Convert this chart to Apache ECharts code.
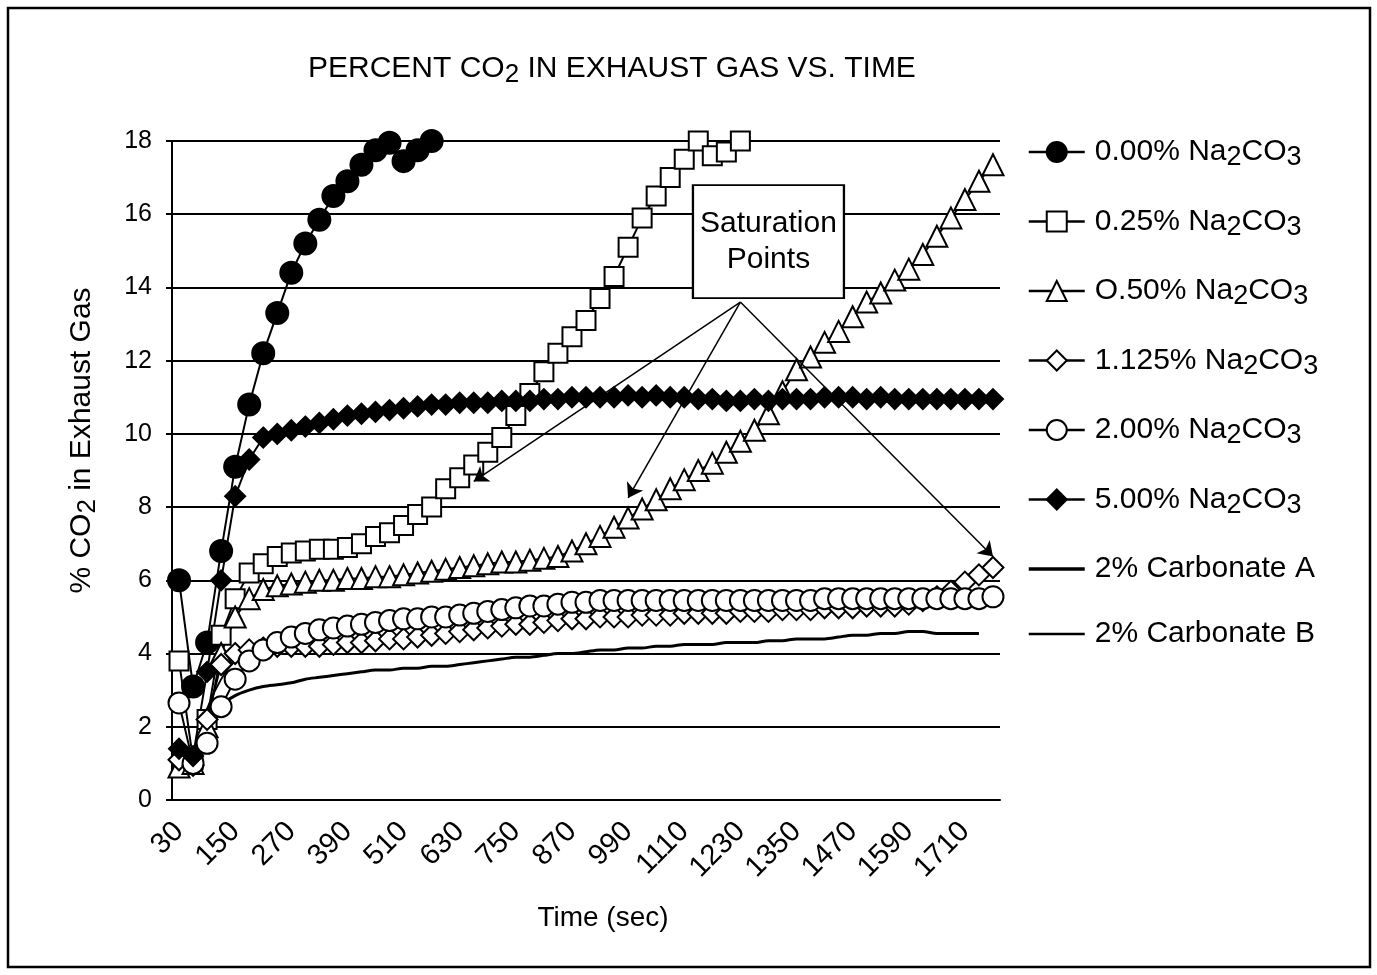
<!DOCTYPE html>
<html>
<head>
<meta charset="utf-8">
<script src="https://cdn.jsdelivr.net/npm/echarts@6/dist/echarts.min.js"></script>
<style>
  html, body { margin: 0; padding: 0; background: #fff; }
  #main { width: 1377px; height: 975px; }
</style>
</head>
<body>
<div id="main"></div>
<script>
// time axis (sec), one category every 30 s
const times = ['30','60','90','120','150','180','210','240','270','300','330','360','390','420','450',
  '480','510','540','570','600','630','660','690','720','750','780','810','840','870','900','930',
  '960','990','1020','1050','1080','1110','1140','1170','1200','1230','1260','1290','1320','1350',
  '1380','1410','1440','1470','1500','1530','1560','1590','1620','1650','1680','1710','1740','1770'];

const yTicks = [0, 2, 4, 6, 8, 10, 12, 14, 16, 18];

// % CO2
const na000 = [6.0, 3.1, 4.3, 6.8, 9.1, 10.8, 12.2, 13.3, 14.4, 15.2, 15.85, 16.5, 16.9, 17.35, 17.75,
  17.95, 17.45, 17.75, 18.0];

const na025 = [3.8, 1.1, 2.2, 4.5, 5.5, 6.2, 6.45, 6.65, 6.75, 6.8, 6.85, 6.85, 6.9, 7.0, 7.2, 7.3,
  7.5, 7.8, 8.0, 8.5, 8.8, 9.15, 9.5, 9.9, 10.5, 11.1, 11.7, 12.2, 12.65, 13.1, 13.7, 14.3, 15.1,
  15.9, 16.5, 17.0, 17.5, 18.0, 17.6, 17.7, 18.0];

const na050 = [0.9, 1.0, 2.0, 4.0, 5.0, 5.5, 5.75, 5.85, 5.9, 5.95, 6.0, 6.0, 6.05, 6.05, 6.1, 6.1,
  6.15, 6.2, 6.25, 6.3, 6.35, 6.4, 6.45, 6.5, 6.5, 6.55, 6.6, 6.65, 6.8, 7.0, 7.2, 7.45, 7.7, 7.95,
  8.2, 8.5, 8.75, 9.0, 9.2, 9.5, 9.8, 10.1, 10.55, 11.15, 11.75, 12.1, 12.5, 12.8, 13.2, 13.6, 13.85,
  14.2, 14.5, 14.9, 15.4, 15.9, 16.4, 16.9, 17.35];

const na1125 = [1.1, 0.95, 2.2, 3.7, 4.0, 4.1, 4.15, 4.2, 4.2, 4.2, 4.2, 4.25, 4.3, 4.3, 4.35, 4.4,
  4.4, 4.45, 4.5, 4.55, 4.6, 4.65, 4.7, 4.75, 4.8, 4.8, 4.85, 4.9, 4.95, 4.95, 5.0, 5.0, 5.0, 5.05,
  5.05, 5.05, 5.1, 5.1, 5.1, 5.1, 5.15, 5.15, 5.15, 5.2, 5.2, 5.2, 5.25, 5.25, 5.25, 5.3, 5.3, 5.3,
  5.35, 5.45, 5.55, 5.7, 5.95, 6.15, 6.35];

const na200 = [2.65, 1.0, 1.55, 2.55, 3.3, 3.8, 4.1, 4.3, 4.45, 4.55, 4.65, 4.7, 4.75, 4.8, 4.85, 4.9,
  4.95, 4.95, 5.0, 5.0, 5.05, 5.1, 5.15, 5.2, 5.25, 5.3, 5.3, 5.35, 5.4, 5.4,
  5.45, 5.45, 5.45, 5.45, 5.45, 5.45, 5.45, 5.45, 5.45, 5.45, 5.45, 5.45, 5.45, 5.45, 5.45, 5.45,
  5.5, 5.5, 5.5, 5.5, 5.5, 5.5, 5.5, 5.5, 5.5, 5.5, 5.5, 5.5, 5.55];

const na500 = [1.4, 1.2, 3.5, 6.0, 8.3, 9.3, 9.9, 10.0, 10.1, 10.2, 10.3, 10.4, 10.5, 10.55, 10.6,
  10.65, 10.7, 10.75, 10.8, 10.8, 10.85, 10.85, 10.85, 10.9, 10.9, 10.9, 10.95, 10.95, 11.0, 11.0,
  11.0, 11.0, 11.05, 11.0, 11.05, 11.0, 11.0, 10.95, 10.95, 10.9, 10.9, 10.95, 10.9, 10.95, 10.95,
  10.95, 11.0, 11.0, 11.0, 10.95, 11.0, 10.95, 10.95, 10.95, 10.95, 10.95, 10.95, 10.95, 10.95];

const carbA = [1.0, 1.2, 2.2, 2.6, 2.85, 3.0, 3.1, 3.15, 3.2, 3.3, 3.35, 3.4, 3.45, 3.5, 3.55, 3.55,
  3.6, 3.6, 3.65, 3.65, 3.7, 3.75, 3.8, 3.85, 3.9, 3.9, 3.95, 4.0, 4.0, 4.05, 4.1, 4.1, 4.15, 4.15,
  4.2, 4.2, 4.25, 4.25, 4.25, 4.3, 4.3, 4.3, 4.35, 4.35, 4.4, 4.4, 4.4, 4.45, 4.5, 4.5, 4.55, 4.55,
  4.6, 4.6, 4.55, 4.55, 4.55, 4.55];

const carbB = [1.2, 1.3, 2.5, 3.3, 3.8, 4.05, 4.2, 4.35, 4.45, 4.55, 4.6, 4.65, 4.7, 4.75, 4.8, 4.85,
  4.9, 4.9, 4.95, 5.0, 5.05, 5.1, 5.15, 5.2, 5.25, 5.3, 5.3, 5.35, 5.35, 5.4, 5.4,
  5.45, 5.45, 5.45, 5.45, 5.45, 5.45, 5.45, 5.45, 5.45, 5.45, 5.45, 5.45, 5.45, 5.45, 5.45, 5.45,
  5.5, 5.5, 5.5, 5.5, 5.5, 5.5, 5.5, 5.5, 5.5, 5.5, 5.5, 5.5];

const seriesNames = ['0.00% Na2CO3', '0.25% Na2CO3', 'O.50% Na2CO3', '1.125% Na2CO3',
  '2.00% Na2CO3', '5.00% Na2CO3', '2% Carbonate A', '2% Carbonate B'];

// saturation arrows: [time, %CO2] of box anchor and the three tips
const arrowFrom = ['1230', 13.6];
const arrowTips = [['660', 8.7], ['990', 8.25], ['1770', 6.65]];
const boxAt = ['1290', 15.25];

const FONT = '"Liberation Sans", Arial, sans-serif';
function subStyle(size, drop) {
  return { fontSize: size, fontFamily: FONT, color: '#000', padding: [drop, 0, 0, 0] };
}

function markerSeries(name, data, symbol, filled, size) {
  return {
    name: name,
    type: 'line',
    data: data,
    symbol: symbol,
    symbolSize: size,
    showAllSymbol: true,
    lineStyle: { color: '#000', width: 2 },
    itemStyle: { color: filled ? '#000' : '#fff', borderColor: '#000', borderWidth: 2 }
  };
}

const chart = echarts.init(document.getElementById('main'));

const option = {
  animation: false,
  backgroundColor: '#fff',
  title: {
    text: 'PERCENT CO{s|2} IN EXHAUST GAS VS. TIME',
    left: 303,
    top: 45,
    textStyle: { fontFamily: FONT, fontSize: 30, fontWeight: 'normal', color: '#000', rich: { s: subStyle(26, 12) } }
  },
  legend: {
    orient: 'vertical',
    left: 1022,
    top: 132,
    itemWidth: 56,
    itemHeight: 25,
    itemGap: 35,
    lineStyle: { width: 2.5 },
    data: seriesNames.map(function (n, i) {
      if (i < 6) return n;
      return { name: n, itemStyle: { opacity: 0 }, lineStyle: { width: i === 6 ? 3.5 : 2.5 } };
    }),
    formatter: function (name) {
      return name.replace('Na2CO3', 'Na{s|2}CO{s|3}');
    },
    textStyle: { fontFamily: FONT, fontSize: 30, color: '#000', padding: [0, 0, 0, 5], rich: { s: subStyle(27, 12) } }
  },
  grid: { left: 172, top: 141, width: 828, height: 659 },
  xAxis: {
    type: 'category',
    data: times,
    boundaryGap: true,
    name: 'Time (sec)',
    nameLocation: 'middle',
    nameGap: 104,
    nameMoveOverlap: false,
    nameTextStyle: { fontFamily: FONT, fontSize: 28, color: '#000', padding: [0, 0, 0, 34] },
    axisLine: { lineStyle: { color: '#000', width: 2 } },
    axisTick: { interval: 0, length: 6, lineStyle: { color: '#000', width: 1.5 } },
    axisLabel: { interval: 3, rotate: 45, margin: 27, fontFamily: FONT, fontSize: 29, color: '#000' },
    splitLine: { show: false }
  },
  yAxis: {
    type: 'value',
    min: yTicks[0],
    max: yTicks[yTicks.length - 1],
    interval: 2,
    name: '% CO{s|2} in Exhaust Gas',
    nameLocation: 'middle',
    nameGap: 71,
    nameMoveOverlap: false,
    nameTextStyle: { fontFamily: FONT, fontSize: 30, color: '#000', padding: [0, 0, 0, 60], rich: { s: subStyle(26, 12) } },
    axisLine: { show: true, lineStyle: { color: '#000', width: 2 } },
    axisTick: { show: true, length: 6, lineStyle: { color: '#000', width: 2 } },
    axisLabel: { margin: 20, fontFamily: FONT, fontSize: 25, color: '#000' },
    splitLine: { lineStyle: { color: '#000', width: 2 } }
  },
  graphic: [{
    type: 'rect',
    shape: { x: 8, y: 8, width: 1362, height: 959 },
    style: { fill: 'none', stroke: '#000', lineWidth: 2.5 },
    silent: true
  }],
  series: [
    markerSeries(seriesNames[0], na000, 'circle', true, 22),
    markerSeries(seriesNames[1], na025, 'rect', false, 19),
    markerSeries(seriesNames[2], na050, 'triangle', false, 21),
    markerSeries(seriesNames[3], na1125, 'diamond', false, 21),
    markerSeries(seriesNames[4], na200, 'circle', false, 21),
    markerSeries(seriesNames[5], na500, 'diamond', true, 20),
    {
      name: seriesNames[6],
      type: 'line',
      z: 3,
      data: carbA,
      symbol: 'none',
      smooth: 0.3,
      lineStyle: { color: '#000', width: 3 },
      itemStyle: { color: '#000' }
    },
    {
      name: seriesNames[7],
      type: 'line',
      z: 3,
      data: carbB,
      symbol: 'none',
      smooth: 0.3,
      lineStyle: { color: '#000', width: 1.8 },
      itemStyle: { color: '#000' },
      markLine: {
        silent: true,
        symbol: ['none', 'arrow'],
        symbolSize: 14,
        label: { show: false },
        lineStyle: { color: '#000', width: 1.5, type: 'solid' },
        data: arrowTips.map(function (tip) {
          return [{ coord: arrowFrom }, { coord: tip }];
        })
      },
      markPoint: {
        silent: true,
        data: [{
          coord: boxAt,
          symbol: 'rect',
          symbolSize: [151, 113],
          itemStyle: { color: '#fff', borderColor: '#000', borderWidth: 2 },
          label: {
            show: true,
            position: 'inside',
            formatter: 'Saturation\nPoints',
            fontFamily: FONT,
            fontSize: 30,
            lineHeight: 36,
            color: '#000'
          }
        }]
      }
    }
  ]
};

chart.setOption(option);
</script>
</body>
</html>
